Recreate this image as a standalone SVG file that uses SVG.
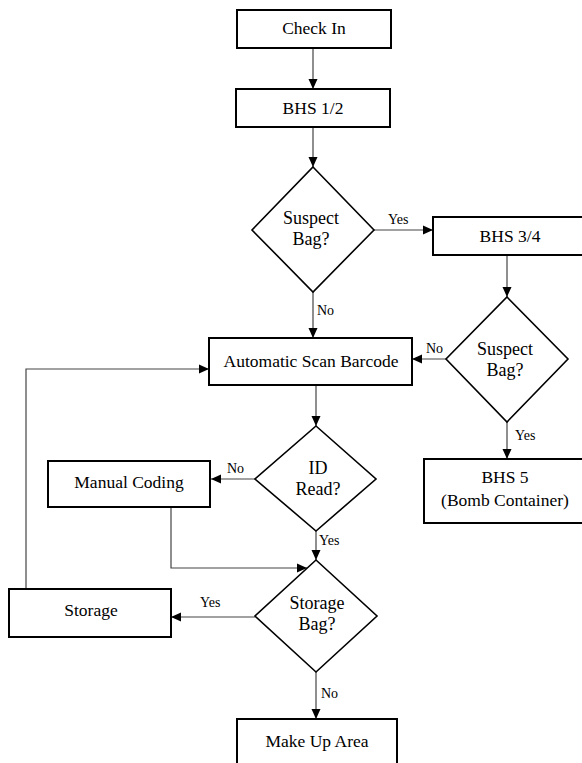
<svg xmlns="http://www.w3.org/2000/svg" width="582" height="763" viewBox="0 0 582 763">
<defs>
<style>
.box{fill:#fff;stroke:#000;stroke-width:2}
.dia{fill:#fff;stroke:#000;stroke-width:1.6}
text{font-family:"Liberation Serif",serif;fill:#000}
.t{font-size:17.5px;text-anchor:middle}
.d{font-size:18px;text-anchor:middle}
.l{font-size:14px}
.c{fill:none;stroke:#444;stroke-width:1.2}
</style>
<marker id="ah" markerUnits="userSpaceOnUse" markerWidth="10" markerHeight="10" viewBox="0 0 10 10" refX="10" refY="5" orient="auto">
<path d="M0,0.5 L10,5 L0,9.5 z" fill="#000"/>
</marker>
</defs>
<rect width="582" height="763" fill="#fff"/>
<g id="connectors">
<line class="c" x1="313" y1="48" x2="313" y2="89" marker-end="url(#ah)"/>
<line class="c" x1="313" y1="127" x2="313" y2="167" marker-end="url(#ah)"/>
<line class="c" x1="374" y1="230" x2="433" y2="230" marker-end="url(#ah)"/>
<line class="c" x1="313" y1="292" x2="313" y2="338" marker-end="url(#ah)"/>
<line class="c" x1="507" y1="255" x2="507" y2="297" marker-end="url(#ah)"/>
<line class="c" x1="446" y1="359" x2="412" y2="359" marker-end="url(#ah)"/>
<line class="c" x1="507" y1="422" x2="507" y2="459" marker-end="url(#ah)"/>
<line class="c" x1="316" y1="385" x2="316" y2="426" marker-end="url(#ah)"/>
<line class="c" x1="255" y1="479" x2="211" y2="479" marker-end="url(#ah)"/>
<line class="c" x1="316" y1="531" x2="316" y2="560" marker-end="url(#ah)"/>
<polyline class="c" points="171,507 171,568 307,568" marker-end="url(#ah)"/>
<line class="c" x1="255" y1="617" x2="171" y2="617" marker-end="url(#ah)"/>
<polyline class="c" points="26,589 26,369 209,369" marker-end="url(#ah)"/>
<line class="c" x1="316" y1="672" x2="316" y2="719" marker-end="url(#ah)"/>
<text class="l" x="388" y="224" font-family="Liberation Serif, serif">Yes</text>
<text class="l" x="317" y="315" font-family="Liberation Serif, serif">No</text>
<text class="l" x="426" y="353" font-family="Liberation Serif, serif">No</text>
<text class="l" x="515" y="440" font-family="Liberation Serif, serif">Yes</text>
<text class="l" x="227" y="473" font-family="Liberation Serif, serif">No</text>
<text class="l" x="319" y="545" font-family="Liberation Serif, serif">Yes</text>
<text class="l" x="200" y="607" font-family="Liberation Serif, serif">Yes</text>
<text class="l" x="321" y="698" font-family="Liberation Serif, serif">No</text>
</g>
<g id="check-in">
<rect class="box" x="237" y="10" width="154" height="38"/>
<text class="t" x="314" y="34">Check In</text>
</g>
<g id="bhs12">
<rect class="box" x="236" y="89" width="154" height="38"/>
<text class="t" x="313" y="114">BHS 1/2</text>
</g>
<g id="suspect1">
<polygon class="dia" points="313,167 374,230 313,292 252,230"/>
<text class="d" x="311" y="224">Suspect</text>
<text class="d" x="311" y="245">Bag?</text>
</g>
<g id="bhs34">
<rect class="box" x="433" y="217" width="154" height="38"/>
<text class="t" x="510" y="242">BHS 3/4</text>
</g>
<g id="suspect2">
<polygon class="dia" points="507,297 568,359 507,422 446,359"/>
<text class="d" x="505" y="355">Suspect</text>
<text class="d" x="505" y="376">Bag?</text>
</g>
<g id="scan">
<rect class="box" x="209" y="338" width="203" height="47"/>
<text class="t" x="311" y="367">Automatic Scan Barcode</text>
</g>
<g id="bhs5">
<rect class="box" x="424" y="459" width="162" height="64"/>
<text class="t" x="505" y="483">BHS 5</text>
<text class="t" x="505" y="506">(Bomb Container)</text>
</g>
<g id="id-read">
<polygon class="dia" points="316,426 376,479 316,531 255,479"/>
<text class="d" x="318" y="474">ID</text>
<text class="d" x="318" y="495">Read?</text>
</g>
<g id="manual">
<rect class="box" x="48" y="461" width="162" height="46"/>
<text class="t" x="129" y="488">Manual Coding</text>
</g>
<g id="storage-bag">
<polygon class="dia" points="316,560 377,616 316,672 255,616"/>
<text class="d" x="317" y="609">Storage</text>
<text class="d" x="317" y="630">Bag?</text>
</g>
<g id="storage">
<rect class="box" x="9" y="589" width="162" height="48"/>
<text class="t" x="91" y="616">Storage</text>
</g>
<g id="makeup">
<rect class="box" x="237" y="719" width="160" height="50"/>
<text class="t" x="317" y="747">Make Up Area</text>
</g>
</svg>
